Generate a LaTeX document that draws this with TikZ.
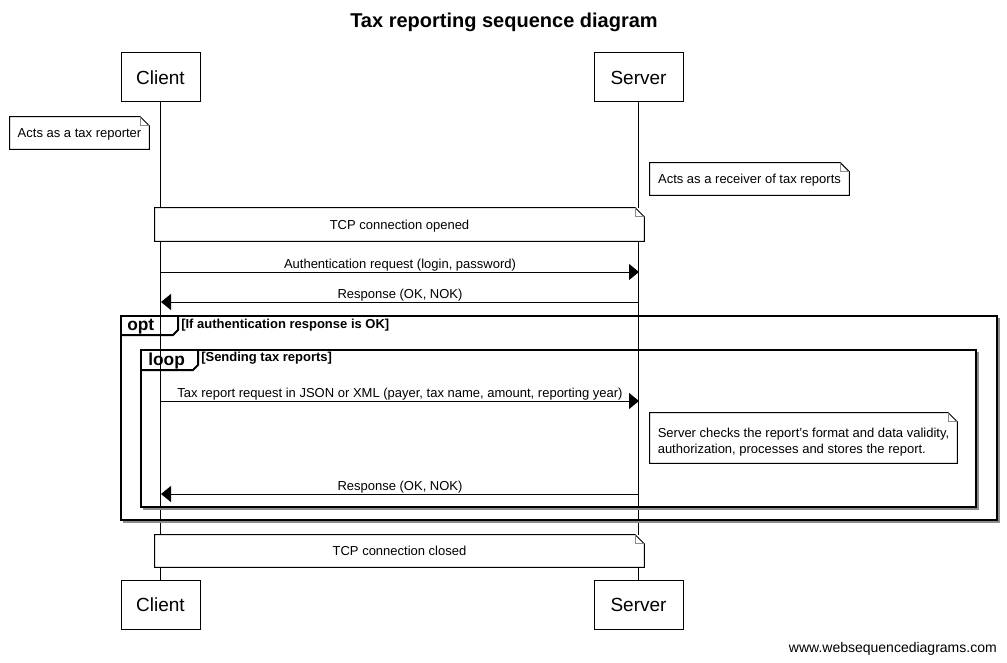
\documentclass[tikz,border=0pt]{standalone}
\usepackage{fontspec}
\setmainfont{Liberation Sans}
\usetikzlibrary{arrows.meta,calc}
\newcommand\foldnote[1]{%
  \draw[notestroke] (#1.north west) -- ($(#1.north east)+(-9,0)$) -- ($(#1.north east)+(0,9)$) -- (#1.south east) -- (#1.south west) -- cycle;
  \draw[foldstroke] ($(#1.north east)+(-9,0)$) -- ($(#1.north east)+(-9,9)$) -- ($(#1.north east)+(0,9)$);
}
\tikzset{
  part/.style={draw=black, line width=0.75pt, fill=white, minimum height=36.75pt, font=\fontsize{14.25pt}{17pt}\selectfont, inner sep=0pt},
  lifeline/.style={draw=black, line width=0.75pt},
  notebg/.style={fill=white, draw=none, inner sep=0pt, text depth=0pt, font=\fontsize{9.75pt}{12pt}\selectfont, align=left},
  notetext/.style={inner sep=0pt, text depth=0pt, font=\fontsize{9.75pt}{12pt}\selectfont, align=left},
  notestroke/.style={draw=black, line width=0.75pt},
  foldstroke/.style={draw=black!45, line width=0.6pt},
  msg/.style={draw=black, line width=0.75pt, -{Triangle[length=7.5pt,width=12pt]}},
  msglabel/.style={font=\fontsize{9.75pt}{12pt}\selectfont, inner sep=0pt, anchor=base, yshift=2.5pt},
  wmlabel/.style={font=\fontsize{10.5pt}{12pt}\selectfont, inner sep=0pt},
  frame/.style={draw=black, line width=1.5pt},
  frameshadow/.style={draw=black!45, line width=1.5pt},
  tablabel/.style={font=\fontsize{13pt}{15pt}\selectfont\bfseries, inner sep=0pt, anchor=west},
  condlabel/.style={font=\fontsize{9.75pt}{12pt}\selectfont\bfseries, inner sep=0pt, anchor=west},
}
\begin{document}
\begin{tikzpicture}[x=0.75pt,y=-0.75pt]
\useasboundingbox (0,0) rectangle (1007,663);
\fill[white] (0,0) rectangle (1007,663);

% title
\node[font=\fontsize{15pt}{18pt}\selectfont\bfseries, inner sep=0pt] (title) at (504,22) {Tax reporting sequence diagram};

% participants
\node[part, minimum width=59.25pt] (ct) at (160.5,77.5) {Client};
\node[part, minimum width=66.75pt] (st) at (638.5,77.5) {Server};
\node[part, minimum width=59.25pt] (cb) at (160.5,604.5) {Client};
\node[part, minimum width=66.75pt] (sb) at (638.5,604.5) {Server};

% lifelines
\draw[lifeline] (ct.south) -- (cb.north);
\draw[lifeline] (st.south) -- (sb.north);

% notes
\node[notebg, minimum width=104.25pt, minimum height=24pt] (n1) at (79.5,133) {Acts as a tax reporter};
\foldnote{n1}
\node[notebg, minimum width=149.25pt, minimum height=24pt] (n2) at (749.5,179) {Acts as a receiver of tax reports};
\foldnote{n2}
\node[notebg, minimum width=366.75pt, minimum height=24.75pt] (n3) at (399.5,224.5) {TCP connection opened};
\foldnote{n3}

% messages
\coordinate (c1) at (161,272); \coordinate (s1) at (639,272);
\draw[msg] (c1) -- (s1) node[msglabel, midway] (m1) {Authentication request (login, password)};
\coordinate (c2) at (161,302); \coordinate (s2) at (639,302);
\draw[msg] (s2) -- (c2) node[msglabel, midway] (m2) {Response (OK, NOK)};

% opt frame
\coordinate (optA) at (121,316); \coordinate (optB) at (997,520);
\draw[frameshadow] (999,318) -- (999,522) -- (123,522);
\draw[frame] (optA) rectangle (optB);
\draw[frame] (121,335) -- (173,335) -- (178,330) -- (178,316);
\node[tablabel] (optlbl) at (127,326.5) {opt};
\node[condlabel] (optcond) at (181,325) {[If authentication response is OK]};

% loop frame
\coordinate (loopA) at (141,350); \coordinate (loopB) at (976,507);
\draw[frameshadow] (978,352) -- (978,509) -- (143,509);
\draw[frame] (loopA) rectangle (loopB);
\draw[frame] (141,370) -- (193,370) -- (198,365) -- (198,350);
\node[tablabel] (looplbl) at (148,361) {loop};
\node[condlabel] (loopcond) at (201,358) {[Sending tax reports]};

\coordinate (c3) at (161,401); \coordinate (s3) at (639,401);
\draw[msg] (c3) -- (s3) node[msglabel, midway] (m3) {Tax report request in JSON or XML (payer, tax name, amount, reporting year)};

\node[notebg, minimum width=230.25pt, minimum height=37.5pt] (n4) at (803.5,438) {};
\foldnote{n4}
\node[notetext] (n4t) at (803.5,440.5) {Server checks the report's format and data validity,\\authorization, processes and stores the report.};

\coordinate (c4) at (161,494); \coordinate (s4) at (639,494);
\draw[msg] (s4) -- (c4) node[msglabel, midway] (m4) {Response (OK, NOK)};

\node[notebg, minimum width=366.75pt, minimum height=24pt] (n5) at (399.5,551) {TCP connection closed};
\foldnote{n5}

% watermark
\node[wmlabel, anchor=east] (wm) at (997,648.5) {www.websequencediagrams.com};
\end{tikzpicture}
\end{document}
